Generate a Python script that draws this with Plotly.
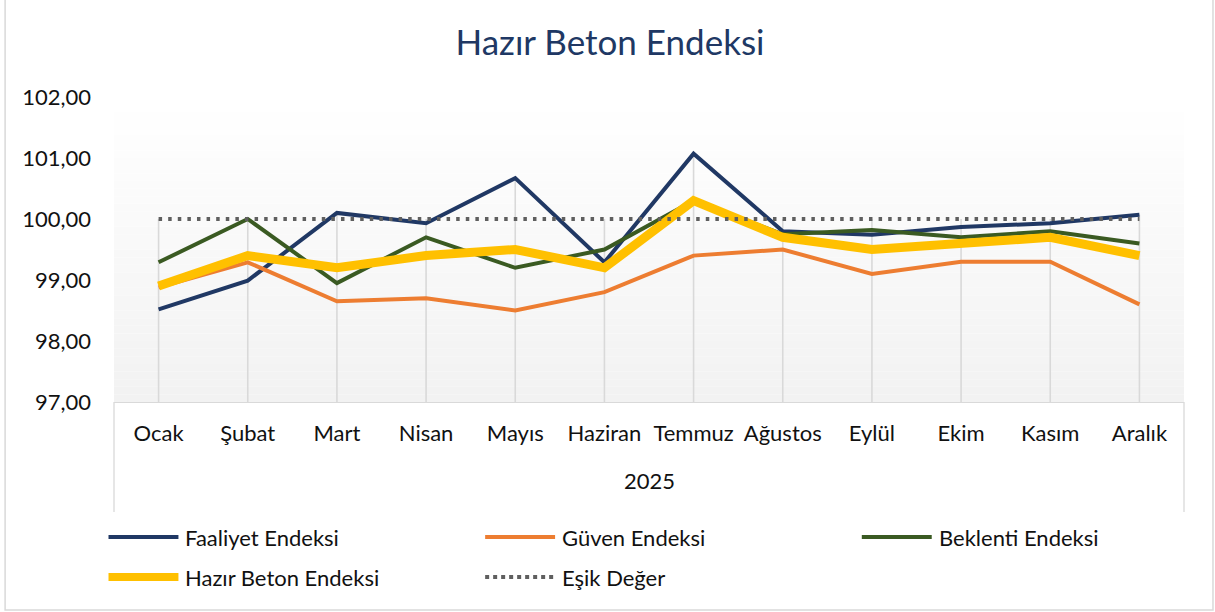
import plotly.graph_objects as go

# Monthly index values for 2025
months = ["Ocak", "Şubat", "Mart", "Nisan", "Mayıs", "Haziran", "Temmuz",
          "Ağustos", "Eylül", "Ekim", "Kasım", "Aralık"]
year_label = "2025"

faaliyet = [98.52, 98.99, 100.10, 99.93, 100.67, 99.29, 101.07, 99.80, 99.74, 99.87, 99.93, 100.07]
guven = [98.88, 99.29, 98.65, 98.70, 98.50, 98.80, 99.40, 99.50, 99.10, 99.30, 99.30, 98.60]
beklenti = [99.29, 100.00, 98.95, 99.70, 99.20, 99.50, 100.30, 99.75, 99.82, 99.70, 99.80, 99.60]
hazir_beton = [98.90, 99.40, 99.20, 99.40, 99.50, 99.20, 100.30, 99.70, 99.50, 99.60, 99.70, 99.40]
esik = [100.00] * 12

y_ticks = [97, 98, 99, 100, 101, 102]

FONT = "Lato"
TXT = 22
W, H = 1215, 612
L, R, T, B = 113.5, 30.5, 97, 210
PW, PH = W - L - R, H - T - B


def px(x):
    return (x - L) / PW


def py(y):
    return (H - B - y) / PH


series = [
    ("Faaliyet Endeksi", faaliyet, "#203864", 4, "solid"),
    ("Güven Endeksi", guven, "#ED7D31", 4, "solid"),
    ("Beklenti Endeksi", beklenti, "#3A5A22", 4, "solid"),
    ("Hazır Beton Endeksi", hazir_beton, "#FFC000", 9, "solid"),
    ("Eşik Değer", esik, "#5F5F5F", 4, "3.5px,6.1px"),
]

fig = go.Figure()

# drop lines from the highest value of each month down to the axis
y_min = y_ticks[0]
drop_x, drop_y = [], []
for i, m in enumerate(months):
    top = max(s[1][i] for s in series)
    drop_x += [m, m, None]
    drop_y += [top, y_min, None]
fig.add_trace(go.Scatter(x=drop_x, y=drop_y, mode="lines",
                         line=dict(color="#D9D9D9", width=1.6),
                         hoverinfo="skip", showlegend=False))

for name, vals, color, width, dash in series:
    fig.add_trace(go.Scatter(x=months, y=vals, mode="lines", name=name,
                             line=dict(color=color, width=width, dash=dash),
                             showlegend=False))

shapes = []

# soft vertical gradient behind the plot area
n_bands = 40
for k in range(n_bands):
    t = k / (n_bands - 1)
    c = int(round(255 - (255 - 242) * t))
    shapes.append(dict(type="rect", xref="x domain", yref="y domain",
                       x0=0, x1=1, y0=1 - (k + 1) / n_bands, y1=1 - k / n_bands,
                       fillcolor=f"rgb({c},{c},{c})", line=dict(width=0),
                       layer="below"))

# multi-level category box below the axis
for xv in (0, 1):
    shapes.append(dict(type="line", xref="paper", yref="paper",
                       x0=xv, x1=xv, y0=0, y1=py(512),
                       line=dict(color="#D9D9D9", width=1.3)))

# outer chart border
shapes.append(dict(type="rect", xref="paper", yref="paper",
                   x0=px(4.5), x1=px(1213.5), y0=py(610), y1=py(-2),
                   line=dict(color="#D9D9D9", width=1.5), fillcolor="rgba(0,0,0,0)"))

annotations = [
    dict(text=year_label, xref="paper", yref="paper", x=px(650), y=py(480),
         showarrow=False, font=dict(family=FONT, size=TXT, color="#111111"),
         xanchor="center", yanchor="middle"),
]

# legend drawn as line samples with labels
legend_items = [
    (0, 108, 178, 537), (1, 485, 555, 537), (2, 862, 932, 537),
    (3, 108, 178, 577), (4, 485, 555, 577),
]
for idx, x0, x1, yy in legend_items:
    name, vals, color, width, dash = series[idx]
    lw = 8 if width > 5 else 4
    shapes.append(dict(type="line", xref="paper", yref="paper",
                       x0=px(x0), x1=px(x1), y0=py(yy), y1=py(yy),
                       line=dict(color=color, width=lw,
                                 dash="dot" if dash != "solid" else "solid")))
    annotations.append(dict(text=name, xref="paper", yref="paper",
                            x=px(x1 + 5), y=py(yy), showarrow=False,
                            xanchor="left", yanchor="middle",
                            font=dict(family=FONT, size=TXT, color="#111111")))

fig.update_layout(
    width=W, height=H,
    margin=dict(l=L, r=R, t=T, b=B, pad=0),
    paper_bgcolor="white", plot_bgcolor="rgba(0,0,0,0)",
    separators=",.",
    title=dict(text="Hazır Beton Endeksi", xref="container", x=610 / W,
               xanchor="center", yref="container", y=1 - 43 / H,
               yanchor="middle",
               font=dict(family=FONT, size=35, color="#203864")),
    xaxis=dict(type="category", range=[-0.5, len(months) - 0.5],
               showgrid=False, zeroline=False, showline=True,
               linecolor="#D9D9D9", linewidth=1.3, ticks="", tickangle=0,
               ticklabelstandoff=11,
               tickfont=dict(family=FONT, size=TXT, color="#111111")),
    yaxis=dict(range=[y_ticks[0], y_ticks[-1]], tickvals=y_ticks,
               tickformat=".2f", showgrid=False, zeroline=False,
               showline=False, ticks="", ticklabelstandoff=22,
               tickfont=dict(family=FONT, size=TXT, color="#111111")),
    shapes=shapes, annotations=annotations,
    showlegend=False,
)

fig.write_html("out.html")
